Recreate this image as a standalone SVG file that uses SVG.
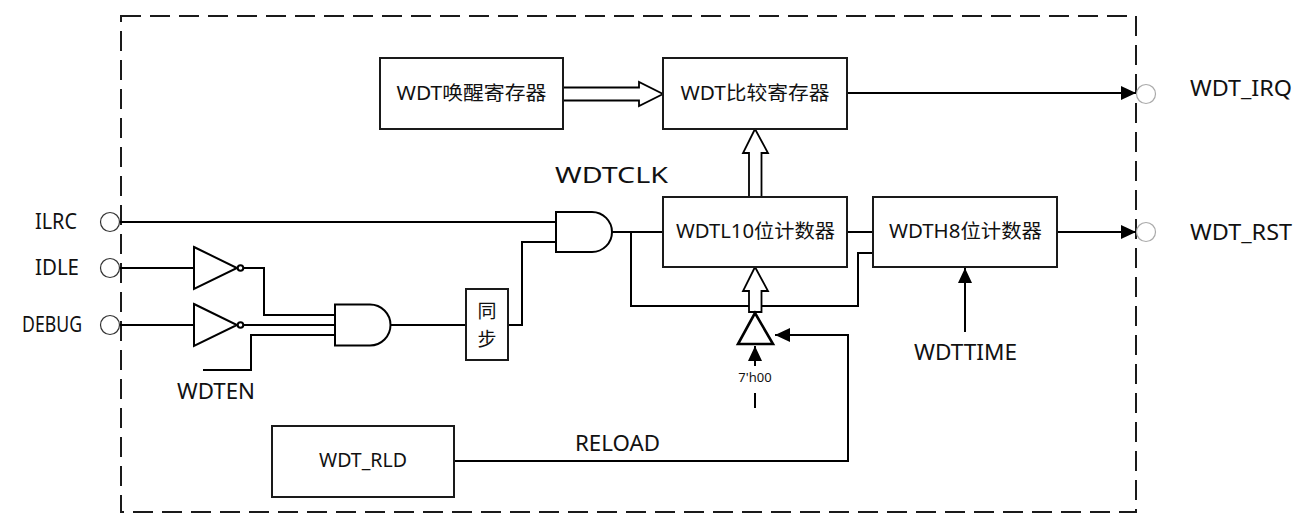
<svg xmlns="http://www.w3.org/2000/svg" width="1308" height="514" viewBox="0 0 1308 514">
<style>
  .box { fill: #ffffff; stroke: #1a1a1a; stroke-width: 2; }
  .w { fill: none; stroke: #000; stroke-width: 2; }
  .gate { fill: #ffffff; stroke: #000; stroke-width: 2; }
  .hollow { fill: #ffffff; stroke: #000; stroke-width: 1.8; stroke-linejoin: miter; }
  .pin { fill: #ffffff; stroke: #333; stroke-width: 1.2; }
  .pout { fill: #ffffff; stroke: #aaaaaa; stroke-width: 1.2; }
  .frame { fill: none; stroke: #1a1a1a; stroke-width: 2; stroke-dasharray: 20 9; }
  .t { font-family: "Noto Sans", "Noto Sans CJK SC", sans-serif; font-size: 21px; fill: #111; }
  .bt { font-family: "Noto Sans", "Noto Sans CJK SC", sans-serif; font-size: 19px; fill: #111; text-anchor: middle; }
  .sm { font-family: "Noto Sans", sans-serif; font-size: 13px; fill: #111; text-anchor: middle; }
</style>
<defs>
  <marker id="ah" viewBox="0 0 15 14" refX="15" refY="7" markerWidth="15" markerHeight="14" markerUnits="userSpaceOnUse" orient="auto">
    <path d="M0,0 L15,7 L0,14 Z" fill="#000"/>
  </marker>
</defs>

<rect class="frame" x="121" y="16" width="1015" height="496"/>

<g id="connectors">
  <line class="w" x1="120" y1="222" x2="556" y2="222"/>
  <line class="w" x1="120" y1="268" x2="194" y2="268"/>
  <line class="w" x1="120" y1="325" x2="194" y2="325"/>
  <polyline class="w" points="243,268 264,268 264,315 335,315"/>
  <line class="w" x1="243" y1="325" x2="335" y2="325"/>
  <polyline class="w" points="203,370 251,370 251,335 335,335"/>
  <line class="w" x1="390" y1="325" x2="466" y2="325"/>
  <polyline class="w" points="508,325 522,325 522,242 556,242"/>
  <line class="w" x1="612" y1="232" x2="663" y2="232"/>
  <polyline class="w" points="631,232 631,306 858,306 858,253 873,253"/>
  <line class="w" x1="847" y1="232" x2="873" y2="232"/>
  <line class="w" x1="847" y1="93" x2="1136" y2="93" marker-end="url(#ah)"/>
  <line class="w" x1="1057" y1="232" x2="1136" y2="232" marker-end="url(#ah)"/>
  <line class="w" x1="965" y1="332" x2="965" y2="268" marker-end="url(#ah)"/>
  <polyline class="w" points="454,461 848,461 848,335 775,335" marker-end="url(#ah)"/>
  <line class="w" x1="755" y1="408" x2="755" y2="393"/>
  <line class="w" x1="755" y1="366" x2="755" y2="346" marker-end="url(#ah)"/>
  <path class="hollow" d="M563,87.5 H639 V82 L663,94 L639,106 V100.5 H563 Z"/>
  <path class="hollow" d="M749,197 V153 H743 L755,129 L768,153 H761.5 V197 Z"/>
  <path class="hollow" d="M749,312 V291 H743 L755,267 L768,291 H761.5 V312 Z"/>
</g>

<g id="pins">
  <circle class="pin" cx="110" cy="222" r="9.5"/>
  <circle class="pin" cx="110" cy="268" r="9.5"/>
  <circle class="pin" cx="110" cy="325" r="9.5"/>
  <circle class="pout" cx="1146" cy="94" r="9.5"/>
  <circle class="pout" cx="1146" cy="232" r="9.5"/>
  <text class="t" x="35" y="229" textLength="42" lengthAdjust="spacingAndGlyphs">ILRC</text>
  <text class="t" x="35" y="275" textLength="44" lengthAdjust="spacingAndGlyphs">IDLE</text>
  <text class="t" x="22" y="332" textLength="60" lengthAdjust="spacingAndGlyphs">DEBUG</text>
  <text class="t" x="1190" y="96" textLength="102" lengthAdjust="spacingAndGlyphs">WDT_IRQ</text>
  <text class="t" x="1190" y="240" textLength="102" lengthAdjust="spacingAndGlyphs">WDT_RST</text>
</g>

<g id="inv1">
  <path class="gate" d="M194,247 L237,268 L194,289 Z"/>
  <circle class="gate" cx="240.5" cy="268" r="2.8"/>
</g>
<g id="inv2">
  <path class="gate" d="M194,304 L237,325 L194,346 Z"/>
  <circle class="gate" cx="240.5" cy="325" r="2.8"/>
</g>
<g id="and2">
  <path class="gate" d="M335,304.5 H370 A20.5,20.5 0 0 1 370,345.5 H335 Z"/>
</g>
<g id="and1">
  <path class="gate" d="M556,212 H592 A20,20 0 0 1 592,252 H556 Z"/>
</g>
<g id="sync">
  <rect class="box" x="466" y="289" width="42" height="71"/>
  <text class="bt" x="487" y="318">同</text>
  <text class="bt" x="487" y="346">步</text>
</g>
<g id="wake">
  <rect class="box" x="380" y="58" width="183" height="71"/>
  <text class="bt" x="471.5" y="100" textLength="150" lengthAdjust="spacingAndGlyphs">WDT唤醒寄存器</text>
</g>
<g id="compare">
  <rect class="box" x="663" y="58" width="184" height="71"/>
  <text class="bt" x="755" y="100" textLength="149" lengthAdjust="spacingAndGlyphs">WDT比较寄存器</text>
</g>
<g id="wdtl">
  <rect class="box" x="663" y="197" width="184" height="70"/>
  <text class="bt" x="755.5" y="238" textLength="159" lengthAdjust="spacingAndGlyphs">WDTL10位计数器</text>
</g>
<g id="wdth">
  <rect class="box" x="873" y="197" width="184" height="70"/>
  <text class="bt" x="965.5" y="238" textLength="153" lengthAdjust="spacingAndGlyphs">WDTH8位计数器</text>
</g>
<g id="rld">
  <rect class="box" x="272" y="426" width="182" height="71"/>
  <text class="bt" x="363" y="467" textLength="88" lengthAdjust="spacingAndGlyphs">WDT_RLD</text>
</g>
<g id="mux">
  <path d="M755,313 L773,344 L738,344 Z" fill="#fff" stroke="#000" stroke-width="2.6" stroke-linejoin="miter"/>
</g>
<g id="labels">
  <text class="t" x="555" y="183" textLength="113" lengthAdjust="spacingAndGlyphs">WDTCLK</text>
  <text class="t" x="177" y="399" textLength="78" lengthAdjust="spacingAndGlyphs">WDTEN</text>
  <text class="t" x="575" y="451" textLength="85" lengthAdjust="spacingAndGlyphs">RELOAD</text>
  <text class="t" x="914" y="360" textLength="103" lengthAdjust="spacingAndGlyphs">WDTTIME</text>
  <text class="sm" x="755" y="382">7'h00</text>
</g>
</svg>
